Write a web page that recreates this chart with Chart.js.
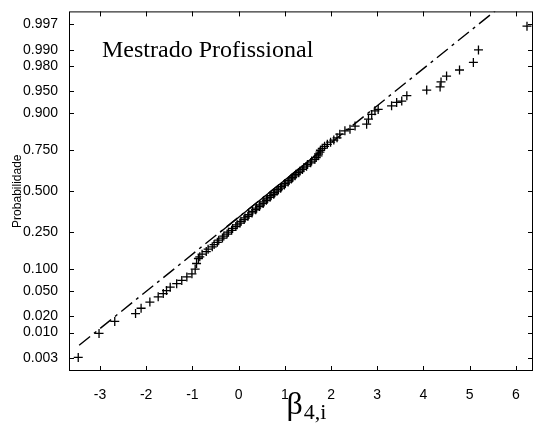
<!DOCTYPE html>
<html>
<head>
<meta charset="utf-8">
<script src="https://cdn.jsdelivr.net/npm/chart.js@4/dist/chart.umd.min.js"></script>
<style>
  html, body { margin: 0; padding: 0; background: #fff; }
</style>
</head>
<body>
<canvas id="probChart" width="541" height="425"></canvas>
<script>
const PLOT_TITLE = "Mestrado Profissional";
const Y_LABEL = "Probabilidade";
const X_LABEL_MAIN = "β";
const X_LABEL_SUB = "4,i";

// y axis is a normal probability scale
const yTickProbs = [0.003, 0.010, 0.020, 0.050, 0.100, 0.250, 0.500, 0.750, 0.900, 0.950, 0.980, 0.990, 0.997];
const yTickLabels = ["0.003", "0.010", "0.020", "0.050", "0.100", "0.250", "0.500", "0.750", "0.900", "0.950", "0.980", "0.990", "0.997"];
const xTicks = [-3, -2, -1, 0, 1, 2, 3, 4, 5, 6];

// sorted sample values and their plotted probabilities
const sampleX = [
  -3.47, -3.02, -2.68, -2.23, -2.11, -1.92, -1.74, -1.63, -1.56, -1.48, -1.34, -1.23, -1.12, -1.01, -0.94, -0.91, -0.87,
  -0.84, -0.79, -0.70, -0.66, -0.57, -0.53, -0.46, -0.43, -0.35, -0.32, -0.25, -0.22, -0.15, -0.13, -0.06, -0.03,
  0.03, 0.05, 0.12, 0.14, 0.20, 0.22, 0.29, 0.30, 0.37, 0.39, 0.45, 0.46, 0.53, 0.55, 0.60, 0.62, 0.68, 0.70,
  0.76, 0.78, 0.83, 0.86, 0.91, 0.93, 0.99, 1.01, 1.07, 1.09, 1.14, 1.17, 1.22, 1.24, 1.30, 1.33, 1.38, 1.41,
  1.47, 1.49, 1.56, 1.58, 1.65, 1.68, 1.72, 1.73, 1.76, 1.77, 1.81, 1.86, 1.92, 1.99, 2.06, 2.13,
  2.19, 2.30, 2.41, 2.52, 2.77, 2.81, 2.88, 2.95, 3.02, 3.31, 3.42, 3.53, 3.64, 4.07, 4.36, 4.38, 4.50, 4.78, 5.08, 5.19, 6.24
];
const sampleProb = [
  0.0031, 0.0096, 0.016, 0.022, 0.027, 0.034, 0.041, 0.046, 0.051, 0.057, 0.064, 0.071, 0.079, 0.087, 0.100, 0.117, 0.134,
  0.14, 0.15, 0.16, 0.17, 0.18, 0.19, 0.20, 0.21, 0.22, 0.23, 0.24, 0.25, 0.26, 0.27, 0.28, 0.29,
  0.30, 0.31, 0.32, 0.33, 0.34, 0.35, 0.36, 0.37, 0.38, 0.39, 0.40, 0.41, 0.42, 0.43, 0.44, 0.45, 0.46, 0.47,
  0.48, 0.49, 0.50, 0.51, 0.52, 0.53, 0.54, 0.55, 0.56, 0.57, 0.58, 0.59, 0.60, 0.61, 0.62, 0.63, 0.64, 0.65,
  0.66, 0.67, 0.68, 0.69, 0.70, 0.71, 0.72, 0.73, 0.74, 0.75, 0.76, 0.77, 0.78, 0.79, 0.80, 0.81,
  0.826, 0.840, 0.846, 0.858, 0.865, 0.882, 0.897, 0.907, 0.911, 0.920, 0.928, 0.931, 0.942, 0.952, 0.957, 0.964, 0.971, 0.977, 0.983, 0.990, 0.9967
];

// fitted reference line (dash-dot) and its solid part between the quartiles
const refLineX = [-3.45, 5.55];
const refLineProb = [0.0056, 0.9985];
const refSolidX = [-0.40, 1.80];
const refSolidProb = [0.25, 0.75];

// inverse of the standard normal cdf (Acklam)
function normInv(p) {
  const a = [-3.969683028665376e+01, 2.209460984245205e+02, -2.759285104469687e+02, 1.383577518672690e+02, -3.066479806614716e+01, 2.506628277459239e+00];
  const b = [-5.447609879822406e+01, 1.615858368580409e+02, -1.556989798598866e+02, 6.680131188771972e+01, -1.328068155288572e+01];
  const c = [-7.784894002430293e-03, -3.223964580411365e-01, -2.400758277161838e+00, -2.549732539343734e+00, 4.374664141464968e+00, 2.938163982698783e+00];
  const d = [7.784695709041462e-03, 3.224671290700398e-01, 2.445134137142996e+00, 3.754408661907416e+00];
  const pLow = 0.02425;
  let q, r;
  if (p < pLow) {
    q = Math.sqrt(-2 * Math.log(p));
    return (((((c[0]*q+c[1])*q+c[2])*q+c[3])*q+c[4])*q+c[5]) / ((((d[0]*q+d[1])*q+d[2])*q+d[3])*q+1);
  }
  if (p <= 1 - pLow) {
    q = p - 0.5;
    r = q * q;
    return (((((a[0]*r+a[1])*r+a[2])*r+a[3])*r+a[4])*r+a[5])*q / (((((b[0]*r+b[1])*r+b[2])*r+b[3])*r+b[4])*r+1);
  }
  q = Math.sqrt(-2 * Math.log(1 - p));
  return -(((((c[0]*q+c[1])*q+c[2])*q+c[3])*q+c[4])*q+c[5]) / ((((d[0]*q+d[1])*q+d[2])*q+d[3])*q+1);
}

function toPoints(xs, ps) {
  return xs.map((x, i) => ({ x: x, y: normInv(ps[i]) }));
}

// box, inward ticks on all four sides, title and x label
const frame = {
  id: "frame",
  afterDraw(chart) {
    const { ctx, chartArea: ca, scales } = chart;
    const tick = 5;
    ctx.save();
    ctx.strokeStyle = "#000";
    ctx.lineWidth = 1;
    ctx.strokeRect(ca.left + 0.5, ca.top + 0.5, ca.right - ca.left - 1, ca.bottom - ca.top - 1);
    ctx.beginPath();
    xTicks.forEach(v => {
      const px = Math.round(scales.x.getPixelForValue(v)) + 0.5;
      ctx.moveTo(px, ca.bottom); ctx.lineTo(px, ca.bottom - tick);
      ctx.moveTo(px, ca.top); ctx.lineTo(px, ca.top + tick);
    });
    yTickProbs.forEach(p => {
      const py = Math.round(scales.y.getPixelForValue(normInv(p))) + 0.5;
      ctx.moveTo(ca.left, py); ctx.lineTo(ca.left + tick, py);
      ctx.moveTo(ca.right, py); ctx.lineTo(ca.right - tick, py);
    });
    ctx.stroke();

    ctx.fillStyle = "#000";
    ctx.textBaseline = "alphabetic";
    ctx.font = "24px 'Liberation Serif', 'Times New Roman', serif";
    ctx.fillText(PLOT_TITLE, 102, 57);

    ctx.font = "32px 'Liberation Serif', 'Times New Roman', serif";
    const wMain = ctx.measureText(X_LABEL_MAIN).width;
    ctx.font = "22px 'Liberation Serif', 'Times New Roman', serif";
    const wSub = ctx.measureText(X_LABEL_SUB).width;
    const x0 = 306 - (wMain + wSub) / 2;
    ctx.font = "32px 'Liberation Serif', 'Times New Roman', serif";
    ctx.fillText(X_LABEL_MAIN, x0, 414);
    ctx.font = "22px 'Liberation Serif', 'Times New Roman', serif";
    ctx.fillText(X_LABEL_SUB, x0 + wMain + 1, 419);
    ctx.restore();
  }
};

const tickFont = { family: "'Liberation Sans', Arial, sans-serif", size: 14 };

new Chart(document.getElementById("probChart").getContext("2d"), {
  type: "scatter",
  data: {
    datasets: [
      {
        data: toPoints(sampleX, sampleProb),
        pointStyle: "cross",
        pointRadius: 4.5,
        borderColor: "#000",
        borderWidth: 1.3,
        showLine: false
      },
      {
        data: toPoints(refLineX, refLineProb),
        showLine: true,
        pointRadius: 0,
        borderColor: "#000",
        borderWidth: 1.4,
        borderDash: [14, 5, 3, 5]
      },
      {
        data: toPoints(refSolidX, refSolidProb),
        showLine: true,
        pointRadius: 0,
        borderColor: "#000",
        borderWidth: 1.4
      }
    ]
  },
  options: {
    responsive: false,
    animation: false,
    devicePixelRatio: 1,
    layout: { padding: { top: 10, right: 8, left: 0, bottom: 0 } },
    plugins: { legend: { display: false }, tooltip: { enabled: false } },
    scales: {
      x: {
        type: "linear",
        min: -3.67,
        max: 6.37,
        grid: { display: false },
        border: { display: false },
        afterBuildTicks: scale => { scale.ticks = xTicks.map(v => ({ value: v })); },
        afterFit: scale => { scale.height = 54; },
        ticks: { font: tickFont, color: "#000", padding: 8, maxRotation: 0, callback: v => String(v) }
      },
      y: {
        type: "linear",
        min: -2.96,
        max: 2.96,
        grid: { display: false },
        border: { display: false },
        afterBuildTicks: scale => { scale.ticks = yTickProbs.map(p => ({ value: normInv(p) })); },
        afterFit: scale => { scale.width = 69; },
        ticks: { font: tickFont, color: "#000", padding: 3, callback: (v, i) => yTickLabels[i] },
        title: {
          display: true,
          text: Y_LABEL,
          color: "#000",
          font: { family: "'Liberation Sans', Arial, sans-serif", size: 12 },
          padding: { top: 10, bottom: 0 }
        }
      }
    }
  },
  plugins: [frame]
});
</script>
</body>
</html>
